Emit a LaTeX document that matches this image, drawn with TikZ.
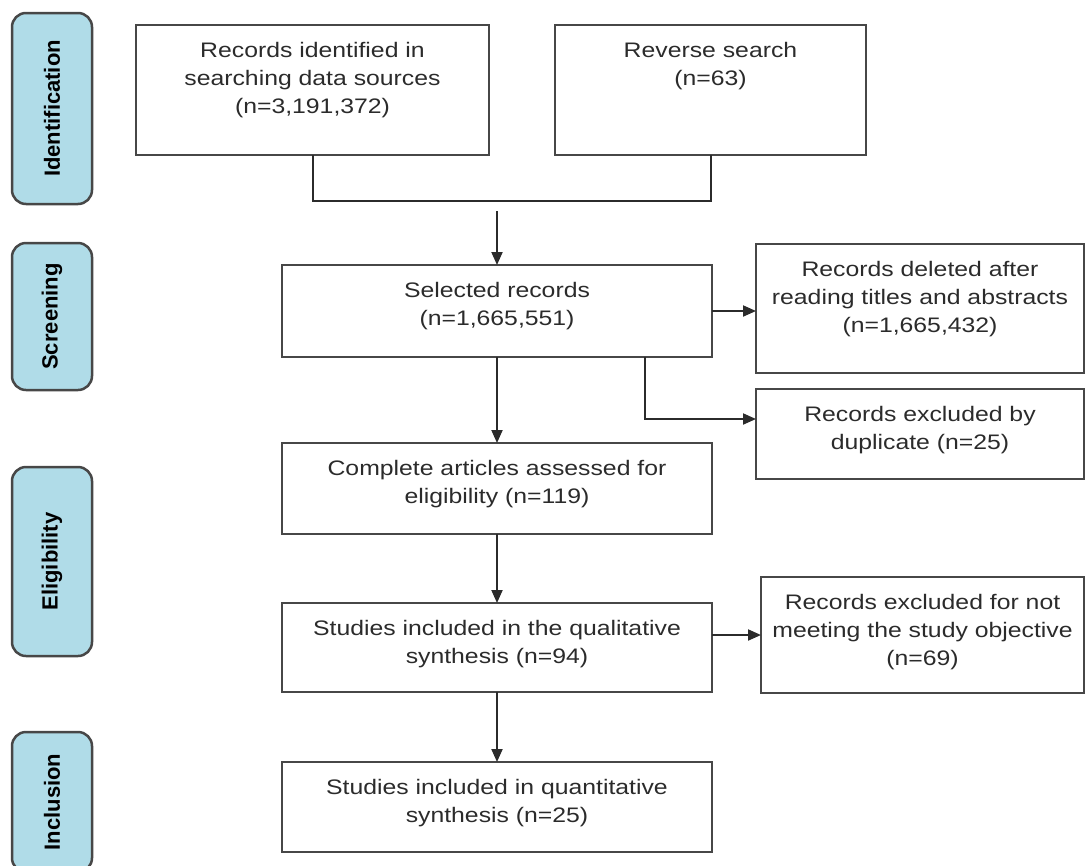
\documentclass[tikz,border=0pt]{standalone}
\usepackage{fontspec}
\setmainfont{Liberation Sans}[FakeStretch=1.18]
\newfontfamily\phasefont{Liberation Sans}
\usetikzlibrary{arrows.meta}
\definecolor{flowInk}{HTML}{2B2B2B}
\definecolor{flowEdge}{HTML}{474747}
\definecolor{phaseBlue}{HTML}{B0DCE8}
\tikzset{
  flow diagram/.style={
    x=1pt, y=-1pt, line width=2pt, draw=flowInk,
    >={Triangle[length=13pt,width=11pt]},
    every node/.style={font=\fontsize{21}{28}\selectfont,
      text=flowInk, inner sep=0pt, outer sep=0pt}
  },
  flow box/.style={draw=flowEdge, line width=2.5pt},
  phase bar/.style={draw=flowEdge, line width=2.5pt, fill=phaseBlue,
    rounded corners=14pt, rotate=90, minimum height=80pt,
    font=\phasefont\bfseries\fontsize{22}{24}\selectfont, text=black}
}
\newcommand{\FlowText}[3]{%
  \parbox[c][#2pt][t]{#1pt}{\centering\rule{0pt}{32pt}#3}%
}

\begin{document}
\begin{tikzpicture}[flow diagram]
    \useasboundingbox (0,0) rectangle (1087,865);
    \node[phase bar, minimum width=191pt] (identPhase) at (52,108.5) {Identification};
    \node[phase bar, minimum width=147pt] (screenPhase) at (52,316.5) {Screening};
    \node[phase bar, minimum width=189pt] (eligPhase) at (52,561.5) {Eligibility};
    \node[phase bar, minimum width=140pt] (inclPhase) at (52,802) {Inclusion};
    \node[flow box] (ident) at (312.5,90)
      {\FlowText{353}{130}{Records identified in\\searching data sources\\(n=3,191,372)}};
    \node[flow box] (reverse) at (710.5,90)
      {\FlowText{311}{130}{Reverse search\\(n=63)}};
    \node[flow box] (selected) at (497,311)
      {\FlowText{430}{92}{Selected records\\(n=1,665,551)}};
    \node[flow box] (deleted) at (920,308.5)
      {\FlowText{328}{129}{Records deleted after\\reading titles and abstracts\\(n=1,665,432)}};
    \node[flow box] (duplicate) at (920,434)
      {\FlowText{328}{90}{Records excluded by\\duplicate (n=25)}};
    \node[flow box] (complete) at (497,488.5)
      {\FlowText{430}{91}{Complete articles assessed for\\eligibility (n=119)}};
    \node[flow box] (qualitative) at (497,647.5)
      {\FlowText{430}{89}{Studies included in the qualitative\\synthesis (n=94)}};
    \node[flow box] (notmeet) at (922.5,635)
      {\FlowText{323}{116}{Records excluded for not\\meeting the study objective\\(n=69)}};
    \node[flow box] (quantitative) at (497,807)
      {\FlowText{430}{90}{Studies included in quantitative\\synthesis (n=25)}};
    \coordinate (mergeY) at (497,201);
    \coordinate (mergeOut) at (497,211);
    \coordinate (dupTurn) at (645,419);
    \draw (ident.south) |- (mergeY) -| (reverse.south);
    \draw[->] (mergeOut) -- (selected.north);
    \draw[->] (selected.east) -- (selected.east -| deleted.west);
    \draw[->] (selected.south -| dupTurn) |- (duplicate.west |- dupTurn);
    \draw[->] (selected.south) -- (complete.north);
    \draw[->] (complete.south) -- (qualitative.north);
    \draw[->] (qualitative.east |- notmeet.west) -- (notmeet.west);
    \draw[->] (qualitative.south) -- (quantitative.north);
  \end{tikzpicture}
\end{document}
